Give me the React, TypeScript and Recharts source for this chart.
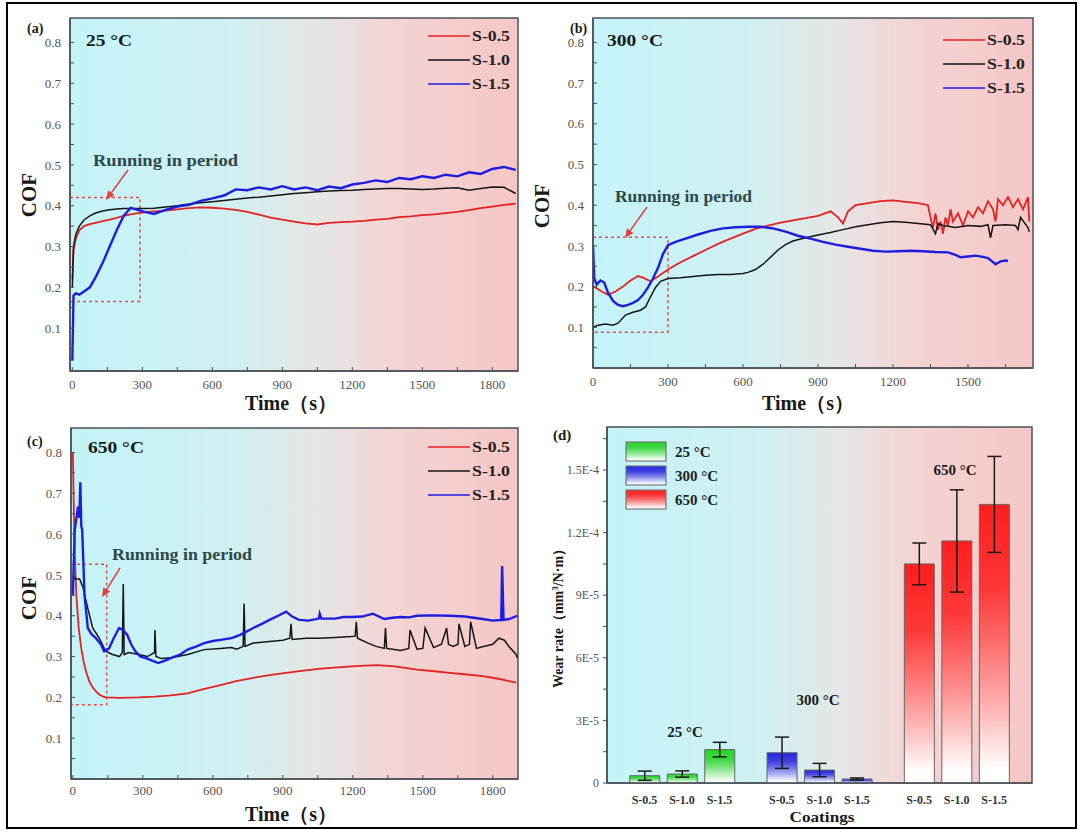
import React from "react";
import {
  LineChart,
  Line,
  BarChart,
  Bar,
  Cell,
  ErrorBar,
  XAxis,
  YAxis,
  CartesianGrid,
  ReferenceArea,
  Legend,
} from "recharts";

const SERIF = "'Liberation Serif', 'Times New Roman', serif";
const AXIS = "#4b5157";
const TICK_FONT = { fontSize: 13, fill: "#555", fontFamily: SERIF };

const SERIES = ["S-0.5", "S-1.0", "S-1.5"];
const LINE_COLORS = ["#e42222", "#151515", "#1d1de0"];
const LINE_WIDTHS = [1.8, 1.5, 2.4];

// axis ticks
const cofTicks = [0.05, 0.1, 0.15, 0.2, 0.25, 0.3, 0.35, 0.4, 0.45, 0.5, 0.55, 0.6, 0.65, 0.7, 0.75, 0.8];
const cofTickLabels = ["", "0.1", "", "0.2", "", "0.3", "", "0.4", "", "0.5", "", "0.6", "", "0.7", "", "0.8"];
const timeTicks = [0, 150, 300, 450, 600, 750, 900, 1050, 1200, 1350, 1500, 1650, 1800];
const timeTickLabels = ["0", "", "300", "", "600", "", "900", "", "1200", "", "1500", "", "1800"];
const timeTicksB = [0, 150, 300, 450, 600, 750, 900, 1050, 1200, 1350, 1500, 1650];
const timeTickLabelsB = ["0", "", "300", "", "600", "", "900", "", "1200", "", "1500", ""];

// (a) 25 °C
const timeA = [0, 5, 15, 30, 50, 75, 100, 130, 160, 190, 220, 250, 280, 310, 350, 400, 450, 500, 550, 600, 650, 700, 750, 800, 850, 900, 950, 1000, 1050, 1100, 1150, 1200, 1250, 1300, 1350, 1400, 1450, 1500, 1550, 1600, 1650, 1700, 1750, 1800, 1850, 1900];
const cofA05 = [0.22, 0.29, 0.32, 0.34, 0.35, 0.355, 0.358, 0.362, 0.366, 0.37, 0.375, 0.379, 0.382, 0.384, 0.386, 0.388, 0.391, 0.394, 0.396, 0.395, 0.393, 0.39, 0.385, 0.378, 0.371, 0.366, 0.361, 0.357, 0.354, 0.358, 0.36, 0.361, 0.363, 0.366, 0.368, 0.372, 0.374, 0.377, 0.379, 0.382, 0.385, 0.389, 0.394, 0.398, 0.402, 0.405];
const cofA10 = [0.2, 0.3, 0.33, 0.35, 0.365, 0.375, 0.382, 0.387, 0.39, 0.392, 0.393, 0.393, 0.393, 0.393, 0.394, 0.397, 0.4, 0.404, 0.407, 0.41, 0.413, 0.416, 0.419, 0.421, 0.424, 0.427, 0.43, 0.432, 0.434, 0.436, 0.437, 0.438, 0.44, 0.441, 0.442, 0.442, 0.441, 0.44, 0.441, 0.443, 0.444, 0.438, 0.442, 0.446, 0.445, 0.43];
const cofA15 = [0.02, 0.18, 0.185, 0.182, 0.19, 0.2, 0.225, 0.26, 0.3, 0.34, 0.375, 0.395, 0.39, 0.385, 0.38, 0.39, 0.398, 0.402, 0.412, 0.418, 0.425, 0.44, 0.438, 0.445, 0.44, 0.448, 0.44, 0.445, 0.438, 0.447, 0.443, 0.452, 0.456, 0.462, 0.458, 0.468, 0.465, 0.472, 0.468, 0.476, 0.472, 0.482, 0.478, 0.49, 0.495, 0.488];

// (b) 300 °C
const timeB05 = [0, 10, 30, 60, 90, 120, 150, 180, 200, 230, 260, 300, 350, 400, 450, 500, 550, 600, 650, 700, 750, 800, 850, 900, 950, 980, 1000, 1020, 1050, 1100, 1150, 1200, 1250, 1300, 1340, 1350, 1360, 1370, 1380, 1390, 1400, 1410, 1420, 1430, 1440, 1460, 1480, 1500, 1520, 1540, 1560, 1580, 1600, 1610, 1620, 1640, 1660, 1680, 1700, 1720, 1740, 1745];
const cofB05 = [0.2, 0.198, 0.19, 0.18, 0.188, 0.2, 0.215, 0.226, 0.222, 0.213, 0.225, 0.242, 0.26, 0.275, 0.29, 0.305, 0.318, 0.33, 0.342, 0.35, 0.357, 0.363, 0.368, 0.374, 0.385, 0.37, 0.355, 0.385, 0.4, 0.405, 0.41, 0.412, 0.408, 0.405, 0.4, 0.37, 0.345, 0.38, 0.34, 0.36, 0.33, 0.37, 0.35, 0.39, 0.36, 0.38, 0.35, 0.385, 0.37, 0.395, 0.38, 0.41, 0.39, 0.36, 0.415, 0.4, 0.42, 0.395, 0.415, 0.39, 0.42, 0.36];
const timeB10 = [0, 20, 50, 80, 100, 130, 160, 190, 210, 230, 250, 270, 300, 350, 400, 450, 500, 550, 600, 620, 650, 680, 710, 740, 770, 800, 850, 900, 950, 1000, 1050, 1100, 1150, 1200, 1250, 1300, 1350, 1370, 1380, 1400, 1450, 1500, 1550, 1580, 1590, 1600, 1650, 1690, 1700, 1710, 1740, 1745];
const cofB10 = [0.1, 0.105, 0.108, 0.105, 0.11, 0.13, 0.137, 0.142, 0.15, 0.175, 0.198, 0.213, 0.22, 0.222, 0.225, 0.228, 0.23, 0.23, 0.232, 0.235, 0.242, 0.255, 0.272, 0.29, 0.303, 0.312, 0.32, 0.327, 0.333, 0.34, 0.347, 0.352, 0.357, 0.36, 0.358, 0.355, 0.352, 0.33, 0.355, 0.35, 0.345, 0.35, 0.348, 0.352, 0.32, 0.35, 0.352, 0.35, 0.34, 0.37, 0.345, 0.335];
const timeB15 = [0, 5, 15, 30, 45, 60, 80, 100, 120, 140, 160, 180, 200, 220, 240, 260, 280, 300, 330, 370, 420, 470, 520, 570, 620, 670, 720, 770, 820, 870, 920, 970, 1020, 1070, 1120, 1170, 1220, 1270, 1320, 1370, 1420, 1450, 1470, 1500, 1530, 1560, 1580, 1600, 1610, 1630, 1650, 1660];
const cofB15 = [0.3, 0.22, 0.205, 0.215, 0.21, 0.185, 0.165, 0.155, 0.152, 0.155, 0.16, 0.167, 0.18, 0.198, 0.22, 0.246, 0.28, 0.302, 0.31, 0.318, 0.328, 0.337, 0.343, 0.346, 0.347, 0.347, 0.343, 0.335, 0.325, 0.318, 0.31, 0.303, 0.298, 0.293, 0.288, 0.286, 0.287, 0.288, 0.287, 0.285, 0.284, 0.278, 0.272, 0.274, 0.276, 0.273, 0.27, 0.26, 0.255, 0.262, 0.264, 0.263];

// (c) 650 °C
const timeC05 = [0, 3, 8, 15, 25, 36, 47, 57, 70, 85, 100, 113, 130, 141, 200, 280, 352, 420, 492, 560, 633, 700, 773, 850, 914, 980, 1054, 1120, 1194, 1250, 1307, 1380, 1475, 1550, 1616, 1690, 1756, 1830, 1900];
const cofC05 = [0.8, 0.7, 0.55, 0.45, 0.37, 0.32, 0.285, 0.262, 0.24, 0.224, 0.214, 0.207, 0.202, 0.2, 0.199, 0.2, 0.202, 0.205, 0.21, 0.22, 0.23, 0.24, 0.248, 0.255, 0.26, 0.265, 0.27, 0.273, 0.276, 0.278, 0.279, 0.276, 0.268, 0.264, 0.26, 0.256, 0.252, 0.245, 0.236];
const timeC10 = [0, 10, 29, 43, 64, 85, 113, 141, 170, 200, 212, 216, 220, 240, 282, 320, 350, 352, 356, 380, 422, 492, 563, 633, 680, 703, 730, 734, 738, 773, 843, 900, 930, 935, 940, 1000, 1054, 1124, 1194, 1210, 1215, 1220, 1265, 1300, 1335, 1340, 1345, 1370, 1405, 1440, 1445, 1475, 1500, 1510, 1546, 1580, 1602, 1610, 1630, 1651, 1655, 1680, 1700, 1705, 1730, 1756, 1800, 1826, 1850, 1868, 1900, 1905];
const cofC10 = [0.5, 0.49, 0.49, 0.47, 0.418, 0.37, 0.345, 0.313, 0.305, 0.3, 0.31, 0.478, 0.305, 0.31, 0.305, 0.3, 0.31, 0.365, 0.3, 0.295, 0.297, 0.305, 0.317, 0.32, 0.322, 0.318, 0.325, 0.43, 0.325, 0.333, 0.337, 0.34, 0.345, 0.38, 0.342, 0.345, 0.345, 0.347, 0.349, 0.35, 0.385, 0.345, 0.333, 0.325, 0.32, 0.37, 0.32, 0.318, 0.315, 0.32, 0.365, 0.318, 0.32, 0.37, 0.322, 0.33, 0.37, 0.33, 0.325, 0.33, 0.38, 0.325, 0.33, 0.385, 0.32, 0.324, 0.33, 0.345, 0.34, 0.325, 0.305, 0.297];
const timeC15 = [0, 8, 22, 28, 32, 36, 40, 50, 64, 80, 99, 120, 134, 155, 175, 198, 215, 233, 250, 268, 290, 310, 340, 366, 395, 422, 460, 492, 530, 563, 600, 633, 680, 717, 740, 773, 810, 843, 880, 914, 940, 970, 1010, 1054, 1058, 1065, 1124, 1160, 1194, 1240, 1286, 1335, 1370, 1405, 1440, 1475, 1540, 1616, 1680, 1756, 1800, 1836, 1840, 1846, 1870, 1905];
const cofC15 = [0.45, 0.61, 0.667, 0.64, 0.727, 0.62, 0.61, 0.45, 0.37, 0.355, 0.345, 0.33, 0.313, 0.32, 0.345, 0.37, 0.365, 0.353, 0.33, 0.313, 0.3, 0.297, 0.29, 0.284, 0.29, 0.297, 0.305, 0.317, 0.325, 0.333, 0.338, 0.341, 0.345, 0.353, 0.36, 0.37, 0.38, 0.39, 0.4, 0.41, 0.398, 0.39, 0.388, 0.393, 0.405, 0.393, 0.393, 0.397, 0.397, 0.398, 0.405, 0.392, 0.395, 0.397, 0.396, 0.4, 0.401, 0.4, 0.398, 0.392, 0.388, 0.39, 0.522, 0.39, 0.392, 0.4];

// (d) wear rate, mm^3/(N·m)
const coatings = ["S-0.5", "S-1.0", "S-1.5"];
const temps = ["25 °C", "300 °C", "650 °C"];
const wear25 = [3.5e-6, 4.3e-6, 1.6e-5];
const err25 = [2.2e-6, 1.5e-6, 3.5e-6];
const wear300 = [1.45e-5, 6.2e-6, 1.9e-6];
const err300 = [7.5e-6, 3.2e-6, 5e-7];
const wear650 = [1.05e-4, 1.16e-4, 1.335e-4];
const err650 = [1.0e-5, 2.45e-5, 2.3e-5];
const wearTicks = [0, 1.5e-5, 3e-5, 4.5e-5, 6e-5, 7.5e-5, 9e-5, 1.05e-4, 1.2e-4, 1.35e-4, 1.5e-4, 1.65e-4];
const wearTickLabels = ["0", "", "3E-5", "", "6E-5", "", "9E-5", "", "1.2E-4", "", "1.5E-4", ""];
const BAR_COLORS = ["#27d427", "#2525de", "#ff1d1d"];

const GROUP_STEP = 3.66;
const wearRows = [wear25, wear300, wear650].flatMap((vals, g) => {
  const errs = [err25, err300, err650][g];
  return vals.map((v, i) => ({ x: g * GROUP_STEP + i + 1, wear: v, err: errs[i], g, label: coatings[i] }));
});

const toPoints = (t: number[], v: number[]) => t.map((x, i) => ({ t: x, cof: v[i] }));

const BgGradient = ({ id }: { id: string }) => (
  <linearGradient id={id} x1="0" y1="0" x2="1" y2="0">
    <stop offset="0" stopColor="#c4f4f8" />
    <stop offset="0.35" stopColor="#cff0f2" />
    <stop offset="0.55" stopColor="#e6e6e6" />
    <stop offset="0.72" stopColor="#f4d4d4" />
    <stop offset="1" stopColor="#f6c6c6" />
  </linearGradient>
);

const LineLegend = (props: any) => {
  const payload = props.payload || [];
  return (
    <svg width={110} height={80}>
      {payload.map((p: any, i: number) => (
        <g key={p.value} transform={`translate(0, ${12 + i * 24})`}>
          <line x1={0} x2={42} y1={0} y2={0} stroke={p.color} strokeWidth={1.5} />
          <text x={44} y={5} fontFamily={SERIF} fontWeight="bold" fontSize={15} fill="#222" textLength={38} lengthAdjust="spacingAndGlyphs">
            {p.value}
          </text>
        </g>
      ))}
    </svg>
  );
};

const WearLegend = () => (
  <svg width={140} height={80}>
    {temps.map((name, i) => (
      <g key={name} transform={`translate(0, ${i * 24})`}>
        <rect x={1} y={1} width={40} height={19} fill={`url(#barG${i})`} stroke="#777" strokeWidth={1.2} />
        <text x={50} y={16} fontFamily={SERIF} fontWeight="bold" fontSize={15} fill="#222">
          {name}
        </text>
      </g>
    ))}
  </svg>
);

type Series = { name: string; color: string; width: number; points: { t: number; cof: number }[] };

type CofPanelProps = {
  left: number;
  top: number;
  width: number;
  height: number;
  marginRight: number;
  yAxisWidth: number;
  xAxisHeight: number;
  xDomain: [number, number];
  yDomain: [number, number];
  xTicks: number[];
  xTickLabels: string[];
  series: Series[];
  box: { x1: number; x2: number; y1: number; y2: number };
  bgId: string;
  legendPos: { left: number; top: number };
  tickMargin?: number;
};

const CofPanel = (p: CofPanelProps) => (
  <div style={{ position: "absolute", left: p.left, top: p.top }}>
    <LineChart width={p.width} height={p.height} margin={{ top: 18, right: p.marginRight, left: 0, bottom: 0 }}>
      <defs>
        <BgGradient id={p.bgId} />
      </defs>
      <CartesianGrid fill={`url(#${p.bgId})`} horizontal={false} vertical={false} />
      <XAxis
        type="number"
        dataKey="t"
        domain={p.xDomain}
        allowDataOverflow
        ticks={p.xTicks}
        interval={0}
        tickFormatter={(v: number, i: number) => p.xTickLabels[i]}
        height={p.xAxisHeight}
        tick={TICK_FONT}
        tickSize={-4}
        tickMargin={p.tickMargin ?? 13}
        axisLine={{ stroke: AXIS, strokeWidth: 1.5 }}
        tickLine={{ stroke: AXIS }}
      />
      <YAxis
        type="number"
        domain={p.yDomain}
        allowDataOverflow
        ticks={cofTicks}
        interval={0}
        tickFormatter={(v: number, i: number) => cofTickLabels[i]}
        width={p.yAxisWidth}
        tick={TICK_FONT}
        tickSize={-4}
        tickMargin={13}
        axisLine={{ stroke: AXIS, strokeWidth: 1.5 }}
        tickLine={{ stroke: AXIS }}
      />
      <ReferenceArea
        x1={p.box.x1}
        x2={p.box.x2}
        y1={p.box.y1}
        y2={p.box.y2}
        fill="none"
        stroke="#e0504a"
        strokeWidth={1.5}
        strokeDasharray="3 3"
        ifOverflow="visible"
      />
      {p.series.map((s) => (
        <Line
          key={s.name}
          data={s.points}
          dataKey="cof"
          name={s.name}
          type="linear"
          dot={false}
          stroke={s.color}
          strokeWidth={s.width}
          isAnimationActive={false}
        />
      ))}
      <ReferenceArea
        x1={p.xDomain[0]}
        x2={p.xDomain[1]}
        y1={p.yDomain[0]}
        y2={p.yDomain[1]}
        fill="none"
        stroke={AXIS}
        strokeWidth={1.5}
        ifOverflow="visible"
      />
      <Legend
        layout="vertical"
        align="center"
        verticalAlign="middle"
        content={<LineLegend />}
        wrapperStyle={{ left: p.legendPos.left, top: p.legendPos.top, width: 110, height: 80, lineHeight: 0 }}
      />
    </LineChart>
  </div>
);

const mkSeries = (pts: { t: number; cof: number }[][]): Series[] =>
  pts.map((points, i) => ({ name: SERIES[i], color: LINE_COLORS[i], width: LINE_WIDTHS[i], points }));

const WearPanel = () => (
  <div style={{ position: "absolute", left: 530, top: 410 }}>
    <BarChart width={549} height={421} data={wearRows} margin={{ top: 17, right: 47, left: 0, bottom: 0 }}>
      <defs>
        <BgGradient id="bgD" />
        {BAR_COLORS.map((c, i) => (
          <linearGradient key={c} id={`barG${i}`} x1="0" y1="0" x2="0" y2="1">
            <stop offset="0" stopColor={c} />
            <stop offset="0.3" stopColor={c} stopOpacity={0.85} />
            <stop offset="0.95" stopColor="#ffffff" />
          </linearGradient>
        ))}
      </defs>
      <CartesianGrid fill="url(#bgD)" horizontal={false} vertical={false} />
      <XAxis
        type="number"
        dataKey="x"
        domain={[0, 11.33]}
        allowDataOverflow
        ticks={wearRows.map((r) => r.x)}
        interval={0}
        tickFormatter={(v: number, i: number) => wearRows[i].label}
        height={48}
        tick={{ fontSize: 12, fill: "#333", fontFamily: SERIF, fontWeight: "bold" }}
        tickLine={false}
        tickMargin={6}
        axisLine={{ stroke: AXIS, strokeWidth: 1.5 }}
      />
      <YAxis
        type="number"
        domain={[0, 1.706e-4]}
        allowDataOverflow
        ticks={wearTicks}
        interval={0}
        tickFormatter={(v: number, i: number) => wearTickLabels[i]}
        width={77}
        tick={{ fontSize: 12, fill: "#555", fontFamily: SERIF }}
        tickSize={4}
        tickMargin={4}
        axisLine={{ stroke: AXIS, strokeWidth: 1.5 }}
        tickLine={{ stroke: AXIS }}
      />
      <Bar dataKey="wear" barSize={30} stroke="#666" strokeWidth={1} isAnimationActive={false}>
        {wearRows.map((r, i) => (
          <Cell key={i} fill={`url(#barG${r.g})`} />
        ))}
        <ErrorBar dataKey="err" width={7} strokeWidth={1.5} stroke="#1a1a1a" direction="y" />
      </Bar>
      <ReferenceArea x1={0} x2={11.33} y1={0} y2={1.706e-4} fill="none" stroke={AXIS} strokeWidth={1.5} ifOverflow="visible" />
      <Legend
        layout="vertical"
        align="center"
        verticalAlign="middle"
        content={<WearLegend />}
        wrapperStyle={{ left: 95, top: 31, width: 140, height: 80, lineHeight: 0 }}
      />
    </BarChart>
  </div>
);

const Arrow = ({ x1, y1, x2, y2 }: { x1: number; y1: number; x2: number; y2: number }) => {
  const a = Math.atan2(y2 - y1, x2 - x1);
  const L = 9;
  const W = 4;
  const bx = x2 - L * Math.cos(a);
  const by = y2 - L * Math.sin(a);
  const pts = `${x2},${y2} ${bx - W * Math.sin(a)},${by + W * Math.cos(a)} ${bx + W * Math.sin(a)},${by - W * Math.cos(a)}`;
  return (
    <g>
      <line x1={x1} y1={y1} x2={bx} y2={by} stroke="#e04040" strokeWidth={1.5} />
      <polygon points={pts} fill="#e04040" />
    </g>
  );
};

const T = (props: any) => <text fontFamily={SERIF} fontWeight="bold" fill="#1a1a1a" {...props} />;

const Overlay = () => (
  <svg width={1079} height={831} style={{ position: "absolute", left: 0, top: 0, pointerEvents: "none" }}>
    <rect x={7} y={3} width={1069} height={825} fill="none" stroke="#000" strokeWidth={2} />

    <T x={27} y={33} fontSize={14}>(a)</T>
    <T x={86} y={46} fontSize={16} textLength={46} lengthAdjust="spacingAndGlyphs">25 °C</T>
    <T x={570} y={33} fontSize={14}>(b)</T>
    <T x={607} y={46} fontSize={16} textLength={56} lengthAdjust="spacingAndGlyphs">300 °C</T>
    <T x={27} y={446} fontSize={14}>(c)</T>
    <T x={88} y={453} fontSize={16} textLength={56} lengthAdjust="spacingAndGlyphs">650 °C</T>
    <T x={553} y={440} fontSize={15}>(d)</T>

    <T x={291} y={410} fontSize={20} textAnchor="middle">Time（s）</T>
    <T x={808} y={410} fontSize={20} textAnchor="middle">Time（s）</T>
    <T x={291} y={821} fontSize={20} textAnchor="middle">Time（s）</T>
    <T x={822} y={822} fontSize={15} textAnchor="middle" textLength={65} lengthAdjust="spacingAndGlyphs">Coatings</T>

    <T x={0} y={0} fontSize={21} textAnchor="middle" transform="translate(36,195) rotate(-90)">COF</T>
    <T x={0} y={0} fontSize={21} textAnchor="middle" transform="translate(549,206) rotate(-90)">COF</T>
    <T x={0} y={0} fontSize={21} textAnchor="middle" transform="translate(36,598) rotate(-90)">COF</T>
    <T x={0} y={0} fontSize={14} textAnchor="middle" transform="translate(563,615) rotate(-90)">
      Wear rate（mm<tspan dy={-5} fontSize={9}>3</tspan><tspan dy={5}>/N·m）</tspan>
    </T>

    <T x={93} y={166} fontSize={16} fill="#2f4848" textLength={145} lengthAdjust="spacingAndGlyphs">Running in period</T>
    <T x={615} y={202} fontSize={16} fill="#2f4848" textLength={137} lengthAdjust="spacingAndGlyphs">Running in period</T>
    <T x={112} y={560} fontSize={16} fill="#2f4848" textLength={140} lengthAdjust="spacingAndGlyphs">Running in period</T>
    <Arrow x1={128} y1={170} x2={106} y2={200} />
    <Arrow x1={647} y1={207} x2={625} y2={238} />
    <Arrow x1={120} y1={568} x2={102} y2={597} />

    <T x={685} y={737} fontSize={15} textAnchor="middle">25 °C</T>
    <T x={818} y={705} fontSize={15} textAnchor="middle">300 °C</T>
    <T x={955} y={475} fontSize={15} textAnchor="middle">650 °C</T>
  </svg>
);

const App = () => (
  <div style={{ position: "absolute", left: 0, top: 0, width: 1079, height: 831, background: "#fff", overflow: "hidden" }}>
    <CofPanel
      left={0}
      top={0}
      width={540}
      height={410}
      marginRight={22}
      yAxisWidth={70}
      xAxisHeight={39}
      xDomain={[-10, 1910]}
      yDomain={[-0.005, 0.86]}
      xTicks={timeTicks}
      xTickLabels={timeTickLabels}
      series={mkSeries([toPoints(timeA, cofA05), toPoints(timeA, cofA10), toPoints(timeA, cofA15)])}
      box={{ x1: -10, x2: 290, y1: 0.165, y2: 0.42 }}
      bgId="bgA"
      legendPos={{ left: 428, top: 24 }}
    />
    <CofPanel
      left={530}
      top={0}
      width={549}
      height={410}
      marginRight={46}
      yAxisWidth={63}
      xAxisHeight={42}
      xDomain={[0, 1760]}
      yDomain={[0, 0.86]}
      xTicks={timeTicksB}
      xTickLabels={timeTickLabelsB}
      series={mkSeries([toPoints(timeB05, cofB05), toPoints(timeB10, cofB10), toPoints(timeB15, cofB15)])}
      box={{ x1: 0, x2: 300, y1: 0.088, y2: 0.321 }}
      bgId="bgB"
      legendPos={{ left: 413, top: 28 }}
    />
    <CofPanel
      left={0}
      top={410}
      width={540}
      height={421}
      marginRight={22}
      yAxisWidth={71}
      xAxisHeight={52}
      xDomain={[-8, 1908]}
      yDomain={[0, 0.86]}
      xTicks={timeTicks}
      xTickLabels={timeTickLabels}
      series={mkSeries([toPoints(timeC05, cofC05), toPoints(timeC10, cofC10), toPoints(timeC15, cofC15)])}
      box={{ x1: -8, x2: 145, y1: 0.182, y2: 0.526 }}
      bgId="bgC"
      legendPos={{ left: 428, top: 25 }}
      tickMargin={11}
    />
    <WearPanel />
    <Overlay />
  </div>
);

export default App;
